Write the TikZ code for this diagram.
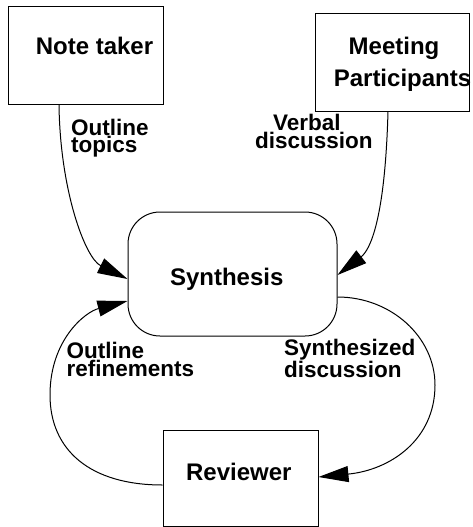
\documentclass[tikz,border=0pt]{standalone}
\usepackage{fontspec}
\setmainfont{Liberation Sans}
\usetikzlibrary{arrows.meta}
\begin{document}
\begin{tikzpicture}[x=1pt,y=-1pt,
  box/.style={draw, line width=1pt, inner sep=0pt},
  boxtext/.style={font=\fontsize{24}{24}\selectfont\bfseries, inner sep=0pt, anchor=base},
  lbl/.style={font=\fontsize{22.5}{17.5}\selectfont\bfseries, align=left, inner sep=0pt, anchor=base west},
  conn/.style={line width=1pt, -{Triangle[length=30pt,width=16pt]}}]
\useasboundingbox (0,0) rectangle (472,527);
% boxes
\node[box, minimum width=155pt, minimum height=97pt] (note) at (85.5,55.5) {};
\node[box, minimum width=154pt, minimum height=97pt] (meet) at (392,62.5) {};
\node[box, minimum width=209pt, minimum height=124pt, rounded corners=32pt] (syn) at (232.5,274) {};
\node[box, minimum width=155pt, minimum height=96pt] (rev) at (240.5,478) {};
% box texts
\node[boxtext] (notet) at (94.5,55) {Note taker};
\node[boxtext] (meett1) at (394,54.5) {Meeting};
\node[boxtext] (meett2) at (402.5,86) {Participants};
\node[boxtext] (synt) at (226.7,285.3) {Synthesis};
\node[boxtext] (revt) at (238.8,480.7) {Reviewer};
% connectors
\draw[conn] (59,0 |- note.south) .. controls (60,190) and (85,258) .. (syn.west |- 0,279);
\draw[conn] (388,0 |- meet.south) .. controls (385,220) and (370,250) .. (syn.east |- 0,275);
\draw[conn] (rev.west |- 0,485) .. controls (90,485) and (50,450) .. (50,395)
   .. controls (50,340) and (85,312) .. (syn.west |- 0,301);
\draw[conn] (syn.east |- 0,297) .. controls (391,297) and (435,337) .. (435,385)
   .. controls (435,440) and (390,470) .. (rev.east |- 0,477);
% labels
\node[lbl] (l1) at (71,152.5) {Outline\\topics};
\node[lbl] (l2) at (255,148.3) {\hspace*{18pt}Verbal\\discussion};
\node[lbl] (l3) at (66.5,376) {Outline\\refinements};
\node[lbl] (l4) at (284,377) {Synthesized\\discussion};
\end{tikzpicture}
\end{document}
